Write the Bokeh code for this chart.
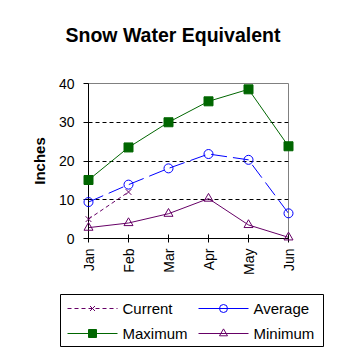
import math
from bokeh.plotting import figure
from bokeh.layouts import column
from bokeh.models import Range1d, FixedTicker
from bokeh.core.properties import value
from bokeh.embed import file_html
from bokeh.resources import INLINE

months = ["Jan", "Feb", "Mar", "Apr", "May", "Jun"]
current = [5.0, 12.0]
average = [9.4, 13.9, 18.1, 21.8, 20.3, 6.5]
maximum = [15.1, 23.5, 30.0, 35.4, 38.5, 23.8]
minimum = [2.8, 4.0, 6.4, 10.3, 3.5, 0.3]
y_ticks = [0, 10, 20, 30, 40]
grid_ticks = [10, 20, 30]
series_names = ["Current", "Average", "Maximum", "Minimum"]
title_text = "Snow Water Equivalent"

FONT = "Liberation Sans"
PURPLE = "#660066"
GREEN = "#006600"
BLUE = "#0000FF"

xs = list(range(len(months)))

# ---- title strip ----
t = figure(width=358, height=70, output_backend="svg", toolbar_location=None,
           title=title_text, x_range=Range1d(0, 1), y_range=Range1d(0, 1),
           min_border_left=88, min_border_right=70, min_border_top=0, min_border_bottom=0)
t.axis.visible = False
t.grid.visible = False
t.outline_line_color = None
t.title.text_font = FONT
t.title.text_font_size = "19.5px"
t.title.text_font_style = "bold"
t.title.text_color = "black"
t.title.align = "left"
t.title.offset = -23
t.title.standoff = 43

# ---- main chart ----
p = figure(width=358, height=212, output_backend="svg", toolbar_location=None,
           x_range=Range1d(0, len(months) - 1), y_range=Range1d(0, 40),
           min_border_left=88, min_border_right=70, min_border_top=13,
           min_border_bottom=44)

p.outline_line_color = "#808080"
p.xgrid.visible = False
p.ygrid.ticker = FixedTicker(ticks=grid_ticks)
p.ygrid.grid_line_color = "black"
p.ygrid.grid_line_dash = "4 3"

p.yaxis.ticker = FixedTicker(ticks=y_ticks)
p.yaxis.minor_tick_line_color = None
p.yaxis.major_tick_in = 0
p.yaxis.major_tick_out = 5
p.yaxis.axis_label = "Inches"
p.yaxis.axis_label_text_font = FONT
p.yaxis.axis_label_text_font_size = "15px"
p.yaxis.axis_label_text_font_style = "bold"
p.yaxis.axis_label_text_color = "black"
p.yaxis.axis_label_standoff = 8
p.yaxis.major_label_standoff = 9

p.xaxis.ticker = FixedTicker(ticks=xs)
p.xaxis.major_label_overrides = {i: m for i, m in enumerate(months)}
p.xaxis.major_label_orientation = math.pi / 2
p.xaxis.major_tick_in = 4
p.xaxis.major_tick_out = 4
p.xaxis.major_label_standoff = 6

for ax in (p.xaxis, p.yaxis):
    ax.axis_line_color = "black"
    ax.major_tick_line_color = "black"
    ax.major_label_text_font = FONT
    ax.major_label_text_font_size = "14px"
    ax.major_label_text_color = "black"

# series
p.line(xs[:len(current)], current, line_color=PURPLE, line_dash="4 3", line_width=1)
p.scatter(xs[:len(current)], current, marker="x", size=8, line_color=PURPLE,
          line_width=1, level="overlay")

p.line(xs, average, line_color=BLUE, line_dash="16 6", line_width=1)
p.scatter(xs, average, marker="circle", size=9, line_color=BLUE, fill_color=None,
          line_width=1, level="overlay")

p.line(xs, maximum, line_color=GREEN, line_width=1)
p.scatter(xs, maximum, marker="square", size=9, line_color=GREEN, fill_color=GREEN,
          level="overlay")

p.line(xs, minimum, line_color=PURPLE, line_width=1)
p.scatter(xs, minimum, marker="triangle", size=9, line_color=PURPLE, fill_color=None,
          line_width=1, level="overlay")

# ---- legend strip (drawn in pixel units of the page) ----
q = figure(width=358, height=76, output_backend="svg", toolbar_location=None,
           x_range=Range1d(88, 288), y_range=Range1d(358, 282),
           min_border_left=88, min_border_right=70, min_border_top=0, min_border_bottom=0)
q.axis.visible = False
q.grid.visible = False
q.outline_line_color = None

q.quad(left=[60], right=[323], top=[294], bottom=[346], fill_color="white",
       line_color="black", line_width=1, level="overlay")

col_x = [67, 198]
row_y = [308, 333]
glyph_w = 50
styles = [
    (dict(line_color=PURPLE, line_dash="4 3"), dict(marker="x", size=7, line_color=PURPLE)),
    (dict(line_color=BLUE), dict(marker="circle", size=8, line_color=BLUE, fill_color=None)),
    (dict(line_color=GREEN), dict(marker="square", size=8, line_color=GREEN, fill_color=GREEN)),
    (dict(line_color=PURPLE), dict(marker="triangle", size=8, line_color=PURPLE, fill_color=None)),
]
for i, (name, (ls, ms)) in enumerate(zip(series_names, styles)):
    cx = col_x[i % 2]
    cy = row_y[i // 2]
    q.segment(x0=[cx], y0=[cy], x1=[cx + glyph_w], y1=[cy], line_width=1, level="overlay", **ls)
    q.scatter(x=[cx + glyph_w / 2], y=[cy], line_width=1, level="overlay", **ms)
    q.text(x=[cx + glyph_w + 5], y=[cy], text=[name], text_font=value(FONT),
           text_font_size="15px", text_color="black", text_baseline="middle",
           text_align="left", level="overlay")

layout = column(t, p, q, spacing=0)
open("out.html", "w").write(file_html(layout, INLINE))
